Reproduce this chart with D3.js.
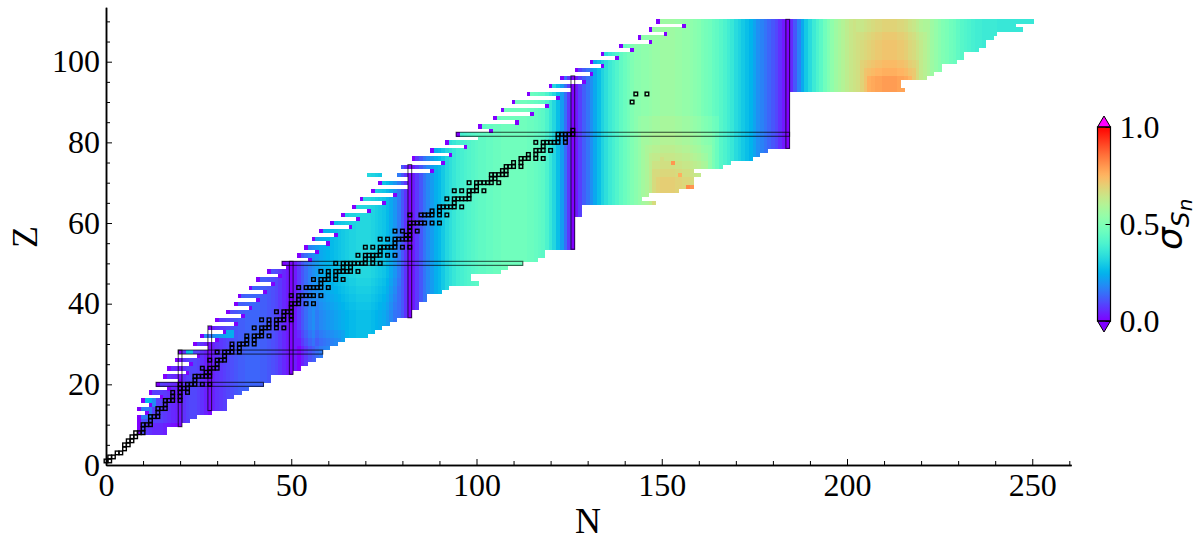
<!DOCTYPE html>
<html><head><meta charset="utf-8">
<style>html,body{margin:0;padding:0;background:#fff}svg{display:block}text{font-family:"Liberation Serif",serif;fill:#000}</style>
<script src="https://cdn.jsdelivr.net/npm/d3@7/dist/d3.min.js"></script>
</head><body><svg id="c" width="1200" height="550"></svg>
<script>
// Proton number of the first row, then each row's N range (Z = firstZ + index)
const firstZ = 8;
const rowNmin = [9,9,9,9,9,11,9,12,10,15,12,17,14,20,16,22,17,23,19,25,20,28,24,30,26,32,28,35,30,37,33,39,35,41,36,43,39,45,41,47,44,49,48,55,52,57,54,60,56,62,58,66,61,68,64,71,67,75,69,78,72,82,74,82,79,88,80,91,83,93,88,97,92,101,95,104,101,111,105,115,107,119,110,122,114,126,120,129,123,131,127,134,131,138,134,142,139,147,144,151,147,156,149];
const rowNmax = [16,16,20,22,24,28,32,32,32,34,36,38,42,44,44,50,52,54,56,58,58,60,62,64,70,72,74,76,78,82,82,84,84,86,86,90,92,100,98,98,106,108,112,116,118,118,126,126,126,126,126,126,126,126,128,128,128,148,144,146,154,158,158,158,160,158,166,168,174,176,178,184,184,184,184,184,184,184,184,184,184,184,184,184,184,215,214,214,221,223,225,225,229,231,231,235,237,237,239,240,247,245,250];
const extraSegments = [[72,71,74]];
const noEdgeDot = [29,69,71,72,74,81,93];

// sigma(Sn) x 100 read column by column, N = 8 .. 250
const sigmaN0 = 8;
const sigmaByN = [
10,10,10,10,9,8,8,8,7,6,5,4, 2, 6,8,9,9,8,6,4, 1,
4,6,7,8,9,10,11,12,12,13,13,13,13,12,12,11,10,9,7,5,3, 0,
3,7,11,14,17,19,21,23,24,25, 26,27,28,29,30,31,31,32,32,32,
32,31,30,29,28,26,23,20,16,11,6, 0,
3,7,11,15,18,21,24,26,29,32, 34,36,38,39,40,41,42,43,
44,44,45,45,46,46,47,47,47,47, 47,47,47,46,46,45,44,43,40,
36,32,27,21,14,7, 0,
3,8,12,15,19,23,27,31,34,37, 39,41,44,46,48,50,52,52,53,53,54,55,55,
56,56,56,56,55,55,54,54,53,52,51, 49,48,47,45,44,42,40,38,36,33,
31,29,27,25,22,19,17,15,13,11,9,6,3, 0,
5,11,17,23,29,33,37,40,43,47, 50,53,56,58,60,62,
64,65,66,67,68,69,70,71,71,72, 72,72,72,71,71,70,68,67,65,63,
61,59,56,54,52,50,49,47,46,44, 42,41,40,39,38,38,37,37,37,37,
36,36,36,36,36,36,36,36,36,36];

// local departures from the column profile [Zlo,Zhi,Nlo,Nhi,delta x 100]
const patches = [
[12,18,9,12,6],[15,17,11,13,10],[8,10,11,20,-3],[28,28,22,23,18],[32,33,27,34,14],
[22,33,52,64,-2],[22,31,52,63,-2],[22,29,52,62,-3],
[30,46,57,79,-1],[30,44,57,79,-1],[30,42,57,78,-1],[30,40,57,78,-1],[30,38,57,78,-1],
[65,86,144,165,2],[65,82,145,164,2],[65,79,146,163,2],[65,77,147,162,2],[65,75,148,162,2],[65,73,148,161,2],[65,71,149,161,2],
[93,100,204,219,2],[93,98,205,218,2],[93,96,206,217,3],
[106,110,204,220,-1],[108,110,203,221,-2]];
// single deviating nuclei [Z,N,sigma x 100]
const outliers = [[75,153,80],[72,155,76],[69,157,82],[69,158,80],[76,150,66],[74,151,66]];

// stable nuclides [Z,[N...]]
const stable = [[1,[0,1]],[2,[1,2]],[3,[3,4]],[4,[5]],[5,[5,6]],[6,[6,7]],[7,[7,8]],[8,[8,9,10]],[9,[10]],[10,[10,11,12]],[11,[12]],[12,[12,13,14]],[13,[14]],[14,[14,15,16]],[15,[16]],[16,[16,17,18,20]],[17,[18,20]],[18,[18,20,22]],[19,[20,21,22]],[20,[20,22,23,24,26,28]],[21,[24]],[22,[24,25,26,27,28]],[23,[27,28]],[24,[26,28,29,30]],[25,[30]],[26,[28,30,31,32]],[27,[32]],[28,[30,32,33,34,36]],[29,[34,36]],[30,[34,36,37,38,40]],[31,[38,40]],[32,[38,40,41,42,44]],[33,[42]],[34,[40,42,43,44,46,48]],[35,[44,46]],[36,[42,44,46,47,48,50]],[37,[48,50]],[38,[46,48,49,50]],[39,[50]],[40,[50,51,52,54,56]],[41,[52]],[42,[50,52,53,54,55,56,58]],[44,[52,54,55,56,57,58,60]],[45,[58]],[46,[56,58,59,60,62,64]],[47,[60,62]],[48,[58,60,62,63,64,65,66,68]],[49,[64,66]],[50,[62,64,65,66,67,68,69,70,72,74]],[51,[70,72]],[52,[68,70,71,72,73,74,76,78]],[53,[74]],[54,[70,72,74,75,76,77,78,80,82]],[55,[78]],[56,[74,76,78,79,80,81,82]],[57,[81,82]],[58,[78,80,82,84]],[59,[82]],[60,[82,83,84,85,86,88,90]],[62,[82,85,86,87,88,90,92]],[63,[88,90]],[64,[90,91,92,93,94,96]],[65,[94]],[66,[92,94,95,96,97,98]],[67,[98]],[68,[94,96,98,99,100,102]],[69,[100]],[70,[98,100,101,102,103,104,106]],[71,[104,105]],[72,[104,105,106,107,108]],[73,[107,108]],[74,[108,109,110,112]],[75,[110,112]],[76,[112,113,114,116,118]],[77,[114,116]],[78,[116,117,118,120]],[79,[118]],[80,[116,118,119,120,121,122,124]],[81,[122,124]],[82,[122,123,124,125,126]],[83,[126]],[90,[142]],[92,[143,146]]];

// magic-number boxes [Nlo,Nhi,Zlo,Zhi]
const magicBoxes = [[19.5,20.5,9.5,28.5],[27.5,28.5,13.5,34.5],[49.5,50.5,22.5,50.5],[81.5,82.5,36.5,74.5],[125.5,126.5,53.5,96.5],[183.5,184.5,78.5,110.5],
[13.5,42.5,19.5,20.5],[19.5,58.5,27.5,28.5],[47.5,112.5,49.5,50.5],[94.5,184.5,81.5,82.5]];

const xMajor=[0,50,100,150,200,250], xMinor=[10,20,30,40,60,70,80,90,110,120,130,140,160,170,180,190,210,220,230,240,260];
const yMajor=[0,20,40,60,80,100], yMinor=[5,10,15,25,30,35,45,50,55,65,70,75,85,90,95,105,110];
const cbTicks=[0,0.5,1];

const svg=d3.select('#c');
const x=d3.scaleLinear().domain([0,260.5]).range([106,106+260.5*3.705]);
const y=d3.scaleLinear().domain([0,113.5]).range([465,465-113.5*4.033]);

function rainbow(t){
  const c=v=>Math.round(255*Math.max(0,Math.min(1,v)));
  return `rgb(${c(Math.abs(2*t-0.5))},${c(Math.sin(Math.PI*t))},${c(Math.cos(Math.PI*t/2))})`;
}
function sigma(Z,N){
  const o=outliers.find(d=>d[0]===Z&&d[1]===N);
  if(o) return o[2]/100;
  let v=sigmaByN[N-sigmaN0];
  patches.forEach(p=>{ if(Z>=p[0]&&Z<=p[1]&&N>=p[2]&&N<=p[3]) v+=p[4]; });
  return Math.max(0,v)/100;
}
const cells=[];
rowNmin.forEach((a,i)=>{
  const Z=firstZ+i;
  for(let N=a;N<=rowNmax[i];N++){
    const edge=N===a&&!noEdgeDot.includes(Z);
    cells.push({Z,N,s:edge?0:sigma(Z,N)});
  }
});
extraSegments.forEach(e=>{ for(let N=e[1];N<=e[2];N++) cells.push({Z:e[0],N,s:sigma(e[0],N)}); });

svg.append('g').attr('shape-rendering','crispEdges').selectAll('rect').data(cells).join('rect')
  .attr('x',d=>x(d.N-0.5)).attr('y',d=>y(d.Z+0.5))
  .attr('width',x(1)-x(0)+0.3).attr('height',y(0)-y(1)+0.3)
  .attr('fill',d=>rainbow(d.s));

svg.append('g').selectAll('rect').data(magicBoxes).join('rect')
  .attr('x',d=>x(d[0])).attr('y',d=>y(d[3]))
  .attr('width',d=>x(d[1])-x(d[0])).attr('height',d=>y(d[2])-y(d[3]))
  .attr('fill','none').attr('stroke','#000').attr('stroke-opacity',0.65).attr('stroke-width',1.1);

const st=stable.flatMap(d=>d[1].map(N=>({Z:d[0],N})));
svg.append('g').selectAll('rect').data(st).join('rect')
  .attr('x',d=>x(d.N)-1.8).attr('y',d=>y(d.Z)-1.8).attr('width',3.6).attr('height',3.6)
  .attr('fill','none').attr('stroke','#000').attr('stroke-width',1.4);

function styleAxis(g){ g.select('.domain').attr('stroke','#000').attr('stroke-width',1.5); g.selectAll('line').attr('stroke','#000').attr('stroke-width',1); }
const ax=(axis,vals,len,tr,fmt)=>{
  const g=svg.append('g').attr('transform',tr).call(axis.tickValues(vals).tickSize(-len).tickSizeOuter(0).tickPadding(10).tickFormat(fmt));
  styleAxis(g); g.selectAll('text').attr('font-size',32).attr('font-family','"Liberation Serif",serif').attr('fill','#000');
  return g;
};
ax(d3.axisBottom(x),xMinor,4,'translate(0,465)',()=>'');
ax(d3.axisBottom(x),xMajor,6,'translate(0,465)',d3.format('d')).selectAll('text').attr('y',8).attr('dy','0.71em');
ax(d3.axisLeft(y),yMinor,4,'translate(106,0)',()=>'');
ax(d3.axisLeft(y),yMajor,6,'translate(106,0)',d3.format('d')).selectAll('text').attr('x',-6);

svg.append('text').attr('x',588).attr('y',533).attr('text-anchor','middle').attr('font-size',36).text('N');
svg.append('text').attr('transform','translate(37,237) rotate(-90)').attr('text-anchor','middle').attr('font-size',36).text('Z');

// colour bar
const cb=d3.scaleLinear().domain([0,1]).range([321,127]);
const cbL=1097.5,cbR=1110.5;
const grad=svg.append('defs').append('linearGradient').attr('id','cbg').attr('x1',0).attr('x2',0).attr('y1',1).attr('y2',0);
d3.range(0,1.001,0.02).forEach(t=>grad.append('stop').attr('offset',t).attr('stop-color',rainbow(t)));
svg.append('rect').attr('x',cbL).attr('y',cb(1)).attr('width',cbR-cbL).attr('height',cb(0)-cb(1)).attr('fill','url(#cbg)');
svg.append('path').attr('d',`M${cbL},${cb(1)}L${(cbL+cbR)/2},116L${cbR},${cb(1)}Z`).attr('fill','#ff00ff').attr('stroke','#000').attr('stroke-width',1);
svg.append('path').attr('d',`M${cbL},${cb(0)}L${(cbL+cbR)/2},332L${cbR},${cb(0)}Z`).attr('fill','#7f00ff').attr('stroke','#000').attr('stroke-width',1);
svg.append('rect').attr('x',cbL).attr('y',cb(1)).attr('width',cbR-cbL).attr('height',cb(0)-cb(1)).attr('fill','none').attr('stroke','#000').attr('stroke-width',1.2);
const cg=svg.append('g').attr('transform',`translate(${cbR},0)`).call(d3.axisRight(cb).tickValues(cbTicks).tickSize(-5).tickSizeOuter(0).tickPadding(9).tickFormat(d3.format('.1f')));
cg.select('.domain').remove(); cg.selectAll('line').attr('stroke','#000');
cg.selectAll('text').attr('font-size',32).attr('font-family','"Liberation Serif",serif').attr('fill','#000');
const lab=svg.append('text').attr('transform','translate(1182,250) rotate(-90)').attr('font-size',36);
lab.append('tspan').style('font-family','"DejaVu Sans",sans-serif').style('font-style','italic').text('σ');
lab.append('tspan').attr('dy',7).attr('font-size',25).style('font-family','"DejaVu Sans",sans-serif').style('font-style','italic').text('S');
lab.append('tspan').attr('dy',3).attr('font-size',20).style('font-family','"DejaVu Sans",sans-serif').style('font-style','italic').text('n');
</script></body></html>
